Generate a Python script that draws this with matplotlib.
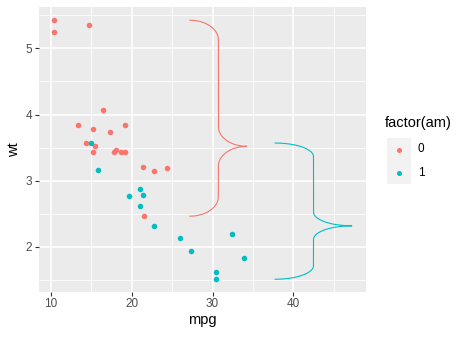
import numpy as np
import matplotlib
matplotlib.use('Agg')
import matplotlib.pyplot as plt
from matplotlib.patches import Rectangle

plt.rcParams['font.family'] = ['Liberation Sans', 'DejaVu Sans']

# mtcars: mpg, wt, am
mpg = [21.0, 21.0, 22.8, 21.4, 18.7, 18.1, 14.3, 24.4, 22.8, 19.2, 17.8,
       16.4, 17.3, 15.2, 10.4, 10.4, 14.7, 32.4, 30.4, 33.9, 21.5, 15.5,
       15.2, 13.3, 19.2, 27.3, 26.0, 30.4, 15.8, 19.7, 15.0, 21.4]
wt = [2.620, 2.875, 2.320, 3.215, 3.440, 3.460, 3.570, 3.190, 3.150, 3.440,
      3.440, 4.070, 3.730, 3.780, 5.250, 5.424, 5.345, 2.200, 1.615, 1.835,
      2.465, 3.520, 3.435, 3.840, 3.845, 1.935, 2.140, 1.513, 3.170, 2.770,
      3.570, 2.780]
am = [1, 1, 1, 0, 0, 0, 0, 0, 0, 0, 0, 0, 0, 0, 0, 0, 0, 1, 1, 1,
      0, 0, 0, 0, 0, 1, 1, 1, 1, 1, 1, 1]

levels = [0, 1]
colors = ['#F8766D', '#00BFC4']

# brace extents per group: x start, x tip
brace_x = [(27.2, 34.25), (37.75, 47.25)]

mpg = np.array(mpg)
wt = np.array(wt)
am = np.array(am)

W, H = 471, 337
fig = plt.figure(figsize=(W / 100, H / 100), dpi=100)
ax = fig.add_axes([39 / W, 1 - 291.5 / H, 327 / W, 284.5 / H])
ax.set_facecolor('#EBEBEB')
for s in ax.spines.values():
    s.set_visible(False)

ax.set_xlim(8.51, 49.0)
ax.set_ylim(1.328, 5.624)
ax.set_xticks([10, 20, 30, 40])
ax.set_yticks([2, 3, 4, 5])
ax.set_xticks([15, 25, 35, 45], minor=True)
ax.set_yticks([1.5, 2.5, 3.5, 4.5, 5.5], minor=True)
ax.grid(which='major', color='white', lw=1.1)
ax.grid(which='minor', color='white', lw=0.55)
ax.set_axisbelow(True)
ax.tick_params(which='major', length=3, width=0.8, color='#333333',
               labelcolor='#4D4D4D', labelsize=8.5, pad=2)
ax.tick_params(which='minor', length=0)
ax.set_xlabel('mpg', fontsize=10.5, labelpad=2)
ax.set_ylabel('wt', fontsize=10.5, labelpad=3)


def brace(x0, x1, y0, y1, ytip, n=60):
    # curly brace opening left, tip pointing right at ytip
    xm = (x0 + x1) / 2
    r = 0.1 * (y1 - y0)
    a = xm - x0
    b = x1 - xm
    t = np.linspace(0, np.pi / 2, n)
    # top corner
    xs = [x0 + a * np.sin(t)]
    ys = [y1 - r + r * np.cos(t)]
    # into tip from above
    xs.append(x1 - b * np.cos(t))
    ys.append(ytip + r - r * np.sin(t))
    # out of tip going down
    xs.append(x1 - b * np.cos(t[::-1]))
    ys.append(ytip - r + r * np.sin(t[::-1]))
    # bottom corner
    xs.append(x0 + a * np.sin(t[::-1]))
    ys.append(y0 + r - r * np.cos(t[::-1]))
    return np.concatenate(xs), np.concatenate(ys)


for lv, col, (bx0, bx1) in zip(levels, colors, brace_x):
    m = am == lv
    ax.scatter(mpg[m], wt[m], s=16, color=col, lw=0, zorder=3)
    bx, by = brace(bx0, bx1, wt[m].min(), wt[m].max(), np.median(wt[m]))
    ax.plot(bx, by, color=col, lw=0.8, zorder=2)

# legend
fig.text(385 / W, 1 - 123 / H, 'factor(am)', fontsize=10.5, va='center', ha='left')
leg = fig.add_axes([0, 0, 1, 1], zorder=5)
leg.set_xlim(0, W)
leg.set_ylim(H, 0)
leg.axis('off')
for i, (lv, col) in enumerate(zip(levels, colors)):
    yc = 149.5 + i * 23
    leg.add_patch(Rectangle((387, yc - 11.5), 24, 23, color='#F2F2F2', lw=0))
    leg.plot(399, yc, 'o', color=col, ms=3.6, mew=0)
    leg.text(418, yc, str(lv), fontsize=8.5, va='center', ha='left')

fig.savefig('out.png', dpi=100)
